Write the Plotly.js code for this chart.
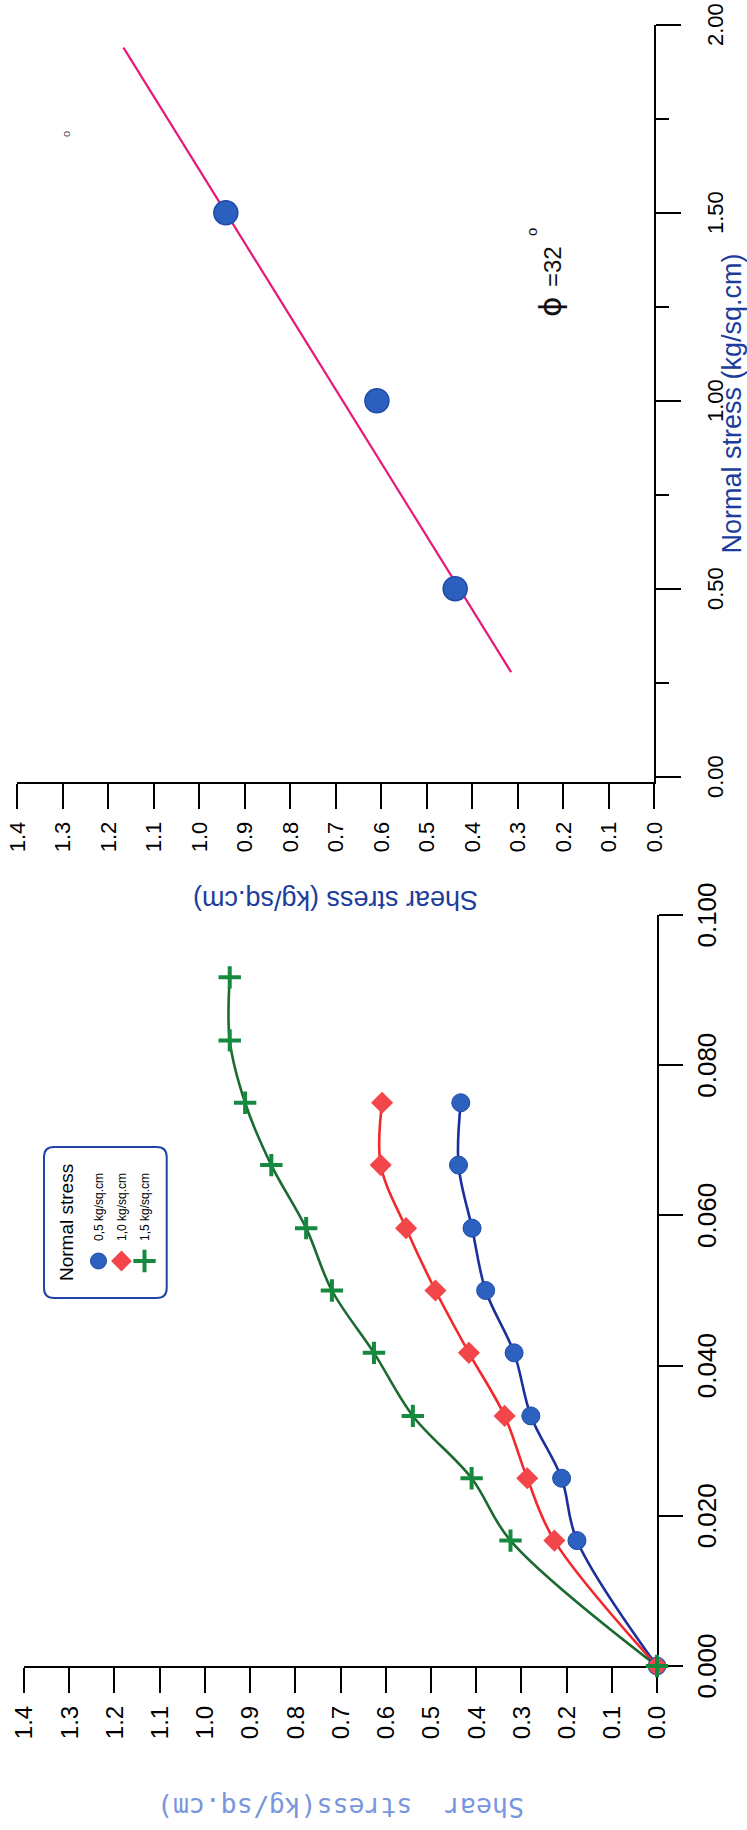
<!DOCTYPE html>
<html><head><meta charset="utf-8">
<script src="https://cdn.plot.ly/plotly-3.0.1.min.js"></script>
<style>
html,body{margin:0;padding:0;width:747px;height:1830px;overflow:hidden;background:#fff;}
#wrap{position:absolute;left:0;top:0;width:1830px;height:747px;transform-origin:0 0;transform:translate(0px,1830px) rotate(-90deg);}
</style></head><body>
<div id="wrap"><div id="chart" style="width:1830px;height:747px"></div></div>
<script>
// ---- data ----
const strain = [0, 0.0167, 0.025, 0.0333, 0.0417, 0.05, 0.0583, 0.0667, 0.075, 0.0833, 0.0917];
const shear05 = [0, 0.177, 0.211, 0.279, 0.316, 0.379, 0.409, 0.439, 0.434];
const shear10 = [0, 0.227, 0.287, 0.337, 0.416, 0.490, 0.555, 0.611, 0.608];
const shear15 = [0, 0.324, 0.410, 0.540, 0.626, 0.719, 0.776, 0.853, 0.911, 0.945, 0.945];
const seriesNames = ['0,5 kg/sq.cm', '1,0 kg/sq.cm', '1,5 kg/sq.cm'];
const legendTitle = 'Normal stress';
const normalStress = [0.5, 1.0, 1.5];
const peakShear = [0.437, 0.609, 0.941];
const envelopeNormal = [0.278, 1.939];
const envelopeShear = [0.314, 1.166];
const phiSymbol = 'ϕ';
const phiValue = '=32';

const series = [
  {y: shear05, name: seriesNames[0], line: '#1c2f9c', marker: {symbol: 'circle', size: 18, color: '#2c61c0', line: {color: '#1d49a6', width: 1}}},
  {y: shear10, name: seriesNames[1], line: '#f2282c', marker: {symbol: 'diamond', size: 17, color: '#f2464a', line: {color: '#f2464a', width: 0}}},
  {y: shear15, name: seriesNames[2], line: '#1b6a30', marker: {symbol: 'cross-thin', size: 16, color: '#158a3f', line: {color: '#158a3f', width: 4}}}
];

const traces = [];
series.forEach(s => {
  traces.push({x: strain.slice(0, s.y.length), y: s.y, xaxis: 'x', yaxis: 'y', mode: 'lines',
    line: {color: s.line, width: 2.6, shape: 'spline', smoothing: 1}, showlegend: false, cliponaxis: false, hoverinfo: 'skip'});
});
series.forEach((s, i) => {
  traces.push({x: strain.slice(0, s.y.length), y: s.y, xaxis: 'x', yaxis: 'y', mode: 'markers', name: s.name,
    legendgroup: 'g' + i, marker: s.marker, cliponaxis: false});
});
traces.push({x: envelopeNormal, y: envelopeShear, xaxis: 'x2', yaxis: 'y2', mode: 'lines',
  line: {color: '#e8187a', width: 2.2}, showlegend: false, cliponaxis: false});
traces.push({x: normalStress, y: peakShear, xaxis: 'x2', yaxis: 'y2', mode: 'markers',
  marker: {symbol: 'circle', size: 24, color: '#2b60bf', line: {color: '#1c4aa6', width: 1.5}}, showlegend: false, cliponaxis: false});

const axBase = {showline: true, linewidth: 2, linecolor: '#000', ticks: 'outside', tickwidth: 2, tickcolor: '#000',
  showgrid: false, zeroline: false, layer: 'below traces', fixedrange: true, automargin: false};

// legend frame (rounded rectangle) in paper units
const L = {x0: 532 / 1830, x1: 683 / 1830, y0: (747 - 166.7) / 747, y1: (747 - 44) / 747, rx: 10 / 1830, ry: 10 / 747};
const framePath = `M${L.x0 + L.rx},${L.y1} L${L.x1 - L.rx},${L.y1} Q${L.x1},${L.y1} ${L.x1},${L.y1 - L.ry} ` +
  `L${L.x1},${L.y0 + L.ry} Q${L.x1},${L.y0} ${L.x1 - L.rx},${L.y0} L${L.x0 + L.rx},${L.y0} ` +
  `Q${L.x0},${L.y0} ${L.x0},${L.y0 + L.ry} L${L.x0},${L.y1 - L.ry} Q${L.x0},${L.y1} ${L.x0 + L.rx},${L.y1} Z`;

const layout = {
  width: 1830, height: 747, margin: {l: 0, r: 0, t: 0, b: 0},
  paper_bgcolor: '#fff', plot_bgcolor: 'rgba(0,0,0,0)',
  font: {family: 'Liberation Sans, Arial, sans-serif', color: '#000'},
  showlegend: true,
  legend: {x: 549 / 1830, xanchor: 'left', y: (747 - 84) / 747, yanchor: 'top', bgcolor: 'rgba(0,0,0,0)', borderwidth: 0,
    font: {size: 12, color: '#000', family: 'Liberation Sans, Arial, sans-serif'},
    tracegroupgap: 4, traceorder: 'grouped'},
  xaxis: Object.assign({}, axBase, {domain: [164 / 1830, 915 / 1830], range: [0, 0.1], tick0: 0, dtick: 0.02, tickformat: '.3f',
    ticklen: 24, tickfont: {size: 26}, ticklabelstandoff: 2, anchor: 'y'}),
  yaxis: Object.assign({}, axBase, {domain: [(747 - 657) / 747, (747 - 24) / 747], range: [0, 1.4], tick0: 0, dtick: 0.1, tickformat: '.1f',
    ticklen: 25, tickfont: {size: 24}, ticklabelstandoff: 8, anchor: 'x',
    title: {text: 'Shear\u00a0 stress(kg/sq.cm)', font: {family: 'DejaVu Sans Mono, monospace', size: 26.5, color: '#7896de'}, standoff: 51}}),
  xaxis2: Object.assign({}, axBase, {domain: [1047.7 / 1830, 1805.3 / 1830], range: [-0.015, 2], tick0: 0, dtick: 0.5, tickformat: '.2f',
    ticklen: 25, tickfont: {size: 22}, ticklabelstandoff: 16, anchor: 'y2',
    minor: {tick0: 0, dtick: 0.25, ticks: 'outside', ticklen: 13, tickwidth: 2, tickcolor: '#000'},
    title: {text: 'Normal stress (kg/sq.cm)', font: {size: 27, color: '#1c3d9c'}, standoff: 4}}),
  yaxis2: Object.assign({}, axBase, {domain: [(747 - 654) / 747, (747 - 17) / 747], range: [0, 1.4], tick0: 0, dtick: 0.1, tickformat: '.1f',
    ticklen: 25, tickfont: {size: 22}, ticklabelstandoff: 8, anchor: 'x2',
    title: {text: 'Shear stress (kg/sq.cm)', font: {size: 27, color: '#1c3d9c'}, standoff: 30}}),
  shapes: [{type: 'path', xref: 'paper', yref: 'paper', path: framePath, line: {color: '#1f45a3', width: 2}, fillcolor: 'rgba(0,0,0,0)'}],
  annotations: [
    {xref: 'paper', yref: 'paper', x: 607.5 / 1830, y: (747 - 66.5) / 747, text: legendTitle, showarrow: false,
      xanchor: 'center', yanchor: 'middle', font: {size: 19, color: '#000'}},
    {xref: 'x2', yref: 'y2', x: 1.250, y: 0.229, text: phiSymbol, showarrow: false, font: {size: 31, color: '#111', family: 'DejaVu Sans, sans-serif'}},
    {xref: 'x2', yref: 'y2', x: 1.356, y: 0.222, text: phiValue, showarrow: false, font: {size: 24, color: '#111'}},
    {xref: 'x2', yref: 'y2', x: 1.448, y: 0.269, text: 'o', showarrow: false, font: {size: 15, color: '#111'}},
    {xref: 'x2', yref: 'y2', x: 1.71, y: 1.293, text: 'o', showarrow: false, font: {size: 11, color: '#555'}}
  ]
};

Plotly.newPlot('chart', traces, layout, {displayModeBar: false, staticPlot: true});
</script>
</body></html>
